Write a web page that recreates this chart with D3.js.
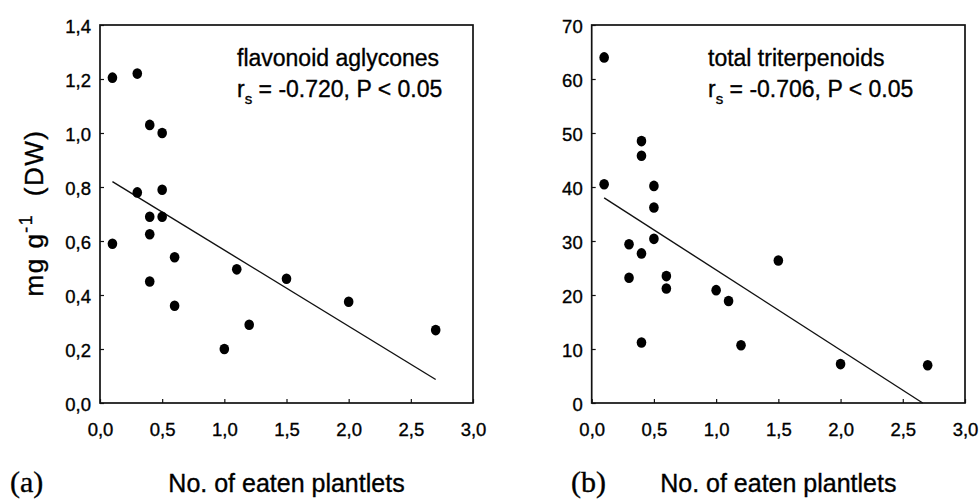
<!DOCTYPE html>
<html>
<head>
<meta charset="utf-8">
<script src="https://cdn.jsdelivr.net/npm/d3@7"></script>
<style>
  body { margin: 0; background: #fff; }
  svg { display: block; font-family: "Liberation Sans", Arial, sans-serif; }
  svg text { fill: #000; stroke: #000; stroke-width: 0.35; }
  .axis text { font-size: 18.5px; font-family: "Liberation Sans", Arial, sans-serif; }
  .axis path { display: none; }
  .axis line { stroke: #111; stroke-width: 1.2; }
</style>
</head>
<body>
<svg width="980" height="499"></svg>
<script>
// Panel (a): flavonoid aglycones
const flavEaten = [0.1, 0.3, 0.4, 0.5, 0.3, 0.5, 0.4, 0.5, 0.4, 0.1, 0.6, 0.4, 0.6, 1.1, 1.5, 1.2, 1.0, 2.0, 2.7];
const flavConc = [1.205, 1.22, 1.03, 1.0, 0.78, 0.79, 0.69, 0.69, 0.625, 0.59, 0.54, 0.45, 0.36, 0.495, 0.46, 0.29, 0.2, 0.375, 0.27];
const flavFit = [[0.1, 0.82], [2.7, 0.087]];
const flavTicks = [0, 0.2, 0.4, 0.6, 0.8, 1.0, 1.2, 1.4];

// Panel (b): total triterpenoids
const terpEaten = [0.1, 0.1, 0.4, 0.4, 0.5, 0.5, 0.5, 0.3, 0.4, 0.3, 0.6, 0.6, 1.0, 1.1, 1.5, 0.4, 1.2, 2.0, 2.7];
const terpConc = [64, 40.5, 48.5, 45.8, 40.2, 36.2, 30.4, 29.4, 27.7, 23.2, 23.5, 21.2, 20.9, 18.9, 26.4, 11.2, 10.7, 7.2, 7.0];
const terpFit = [[0.1, 38], [2.66, 0]];
const terpTicks = [0, 10, 20, 30, 40, 50, 60, 70];

const xTicks = [0, 0.5, 1.0, 1.5, 2.0, 2.5, 3.0];

const svg = d3.select("svg");
const comma = d => d3.format(".1f")(d).replace(".", ",");

function renderPanel(opt) {
  const x = d3.scaleLinear().domain([0, 3]).range([opt.left, opt.right]);
  const y = d3.scaleLinear().domain([0, opt.yMax]).range([403, 25]);
  const g = svg.append("g");

  // x axis, ticks pointing inside
  g.append("g")
    .attr("class", "axis")
    .attr("transform", `translate(0,${y(0)})`)
    .call(d3.axisBottom(x).tickValues(xTicks).tickFormat(comma)
      .tickSizeInner(-4).tickSizeOuter(0).tickPadding(20));

  // y axis
  const ya = g.append("g")
    .attr("class", "axis")
    .attr("transform", `translate(${x(0)},0)`)
    .call(d3.axisLeft(y).tickValues(opt.yTicks).tickFormat(opt.yFormat)
      .tickSizeInner(-4).tickSizeOuter(0).tickPadding(9));
  ya.selectAll("text").attr("dy", "0.42em");

  // frame
  g.append("rect")
    .attr("x", x(0)).attr("y", y(opt.yMax))
    .attr("width", x(3) - x(0)).attr("height", y(0) - y(opt.yMax))
    .attr("fill", "none").attr("stroke", "#111").attr("stroke-width", 1.7);

  // regression line
  g.append("line")
    .attr("x1", x(opt.fit[0][0])).attr("y1", y(opt.fit[0][1]))
    .attr("x2", x(opt.fit[1][0])).attr("y2", y(opt.fit[1][1]))
    .attr("stroke", "#111").attr("stroke-width", 1.4);

  // points
  g.selectAll("ellipse.dot")
    .data(opt.xs.map((v, i) => [v, opt.ys[i]]))
    .enter()
    .append("ellipse")
    .attr("class", "dot")
    .attr("cx", d => x(d[0]))
    .attr("cy", d => y(d[1]))
    .attr("rx", 4.8)
    .attr("ry", 5.3)
    .attr("fill", "#000");

  // annotation
  g.append("text")
    .text(opt.title)
    .attr("x", opt.noteX).attr("y", 66)
    .style("font-size", "23px");
  const r = g.append("text")
    .attr("x", opt.noteX).attr("y", 97)
    .style("font-size", "23px");
  r.append("tspan").text("r");
  r.append("tspan").text("s").attr("dy", 7).style("font-size", "15px");
  r.append("tspan").text(" = " + opt.stat).attr("dy", -7);

  // x label and panel letter
  g.append("text")
    .text("No. of eaten plantlets")
    .attr("x", (x(0) + x(3)) / 2).attr("y", 492)
    .attr("text-anchor", "middle")
    .style("font-size", "25px");
  g.append("text")
    .text(opt.letter)
    .attr("x", opt.letterX).attr("y", 492)
    .style("font-family", "'Liberation Serif', 'Times New Roman', serif")
    .style("font-size", "30px");
}

renderPanel({
  left: 100, right: 473, yMax: 1.4, yTicks: flavTicks, yFormat: comma,
  xs: flavEaten, ys: flavConc, fit: flavFit,
  title: "flavonoid aglycones", stat: "-0.720, P < 0.05", noteX: 237,
  letter: "(a)", letterX: 10
});

renderPanel({
  left: 591.7, right: 965, yMax: 70, yTicks: terpTicks, yFormat: d3.format("d"),
  xs: terpEaten, ys: terpConc, fit: terpFit,
  title: "total triterpenoids", stat: "-0.706, P < 0.05", noteX: 708,
  letter: "(b)", letterX: 571
});

// y axis label of panel (a)
const yl = svg.append("text")
  .attr("transform", "translate(43,213) rotate(-90)")
  .attr("text-anchor", "middle")
  .style("font-size", "26px")
  .style("letter-spacing", "1.5px")
  .style("white-space", "pre");
yl.append("tspan").text("mg g");
yl.append("tspan").text("-1").attr("dy", -11).style("font-size", "18px");
yl.append("tspan").text("  (DW)").attr("dy", 11);
</script>
</body>
</html>
